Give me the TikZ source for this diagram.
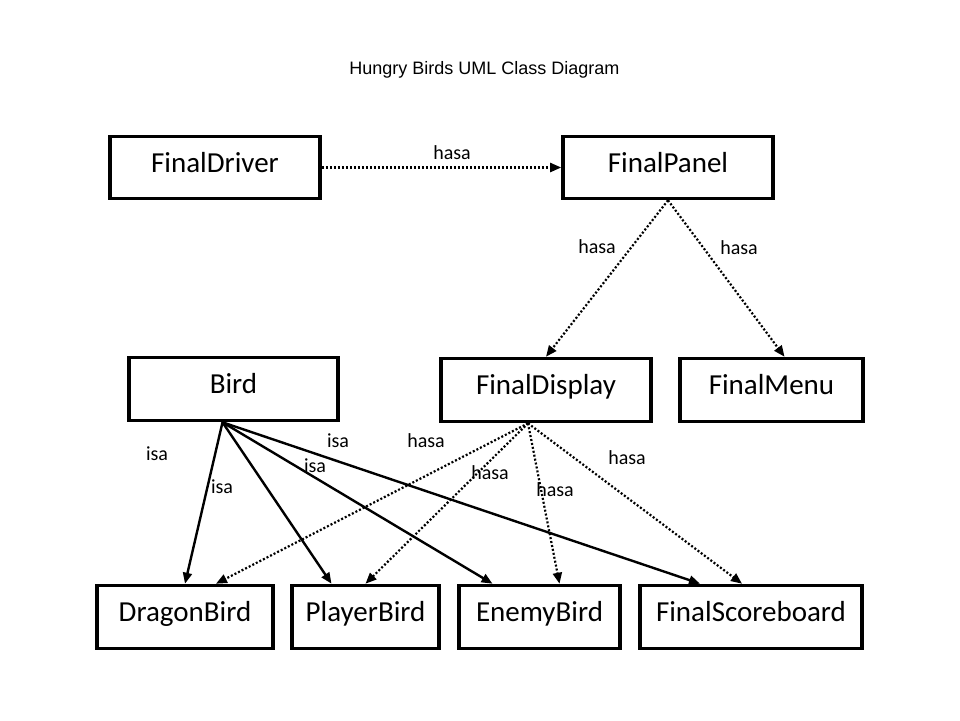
\documentclass[tikz,border=0pt]{standalone}
\usepackage{fontspec}
\setmainfont{Carlito}
\newfontfamily\titlefont{Liberation Sans}
\usetikzlibrary{arrows.meta}
\tikzset{
  cls/.style={draw, line width=3.6pt, inner sep=0pt, text height=20pt, text depth=11pt, font=\fontsize{29}{31}\selectfont},
  isaarrow/.style={line width=2.4pt, -{Triangle[length=11pt,width=9pt]}},
  hasaarrow/.style={line width=2.2pt, dash pattern=on 2pt off 2pt, -{Triangle[length=11pt,width=9pt]}},
  lbl/.style={font=\fontsize{20}{22}\selectfont, inner sep=0pt}
}
\begin{document}
\begin{tikzpicture}[x=1pt,y=-1pt]
\useasboundingbox[fill=white] (0,0) rectangle (960,720);
\node[font=\titlefont\fontsize{18}{20}\selectfont] (title) at (484.5,70) {Hungry Birds UML Class Diagram};

\node[cls, minimum width=210pt, minimum height=62pt] (driver) at (215,167.5) {FinalDriver};
\node[cls, minimum width=210pt, minimum height=62pt] (panel) at (668,167.5) {FinalPanel};
\node[cls, minimum width=209pt, minimum height=63pt] (bird) at (233.5,389) {Bird};
\node[cls, minimum width=210pt, minimum height=63pt] (display) at (546,390) {FinalDisplay};
\node[cls, minimum width=183pt, minimum height=63pt] (menu) at (771.5,390) {FinalMenu};
\node[cls, minimum width=176pt, minimum height=63pt] (dragon) at (185,617) {DragonBird};
\node[cls, minimum width=147pt, minimum height=63pt] (player) at (365.5,617) {PlayerBird};
\node[cls, minimum width=161pt, minimum height=63pt] (enemy) at (539.5,617) {EnemyBird};
\node[cls, minimum width=222pt, minimum height=63pt] (score) at (751,617) {FinalScoreboard};

% hasa
\draw[hasaarrow] (driver.east) -- (panel.west);
\node[lbl] (l1) at (452,153) {hasa};
\draw[hasaarrow] (panel.south) -- (display.north);
\node[lbl] (l2) at (597,247) {hasa};
\draw[hasaarrow] (panel.south) -- ([xshift=13pt]menu.north);
\node[lbl] (l3) at (739,248) {hasa};

% isa
\draw[isaarrow] ([xshift=-11pt]bird.south) -- (dragon.north);
\draw[isaarrow] ([xshift=-11pt]bird.south) -- ([xshift=-34pt]player.north);
\draw[isaarrow] ([xshift=-11pt]bird.south) -- ([xshift=-47pt]enemy.north);
\draw[isaarrow] ([xshift=-11pt]bird.south) -- ([xshift=-51pt]score.north);
\node[lbl] (i1) at (157,454) {isa};
\node[lbl] (i2) at (222,487) {isa};
\node[lbl] (i3) at (315,466) {isa};
\node[lbl] (i4) at (338,441) {isa};

% display hasa
\draw[hasaarrow] ([xshift=-18pt]display.south) -- ([xshift=31pt]dragon.north);
\draw[hasaarrow] ([xshift=-18pt]display.south) -- (player.north);
\draw[hasaarrow] ([xshift=-18pt]display.south) -- ([xshift=20pt]enemy.north);
\draw[hasaarrow] ([xshift=-18pt]display.south) -- ([xshift=-9pt]score.north);
\node[lbl] (h1) at (426,441) {hasa};
\node[lbl] (h2) at (490,473) {hasa};
\node[lbl] (h3) at (555,490) {hasa};
\node[lbl] (h4) at (627,458) {hasa};
\end{tikzpicture}
\end{document}
